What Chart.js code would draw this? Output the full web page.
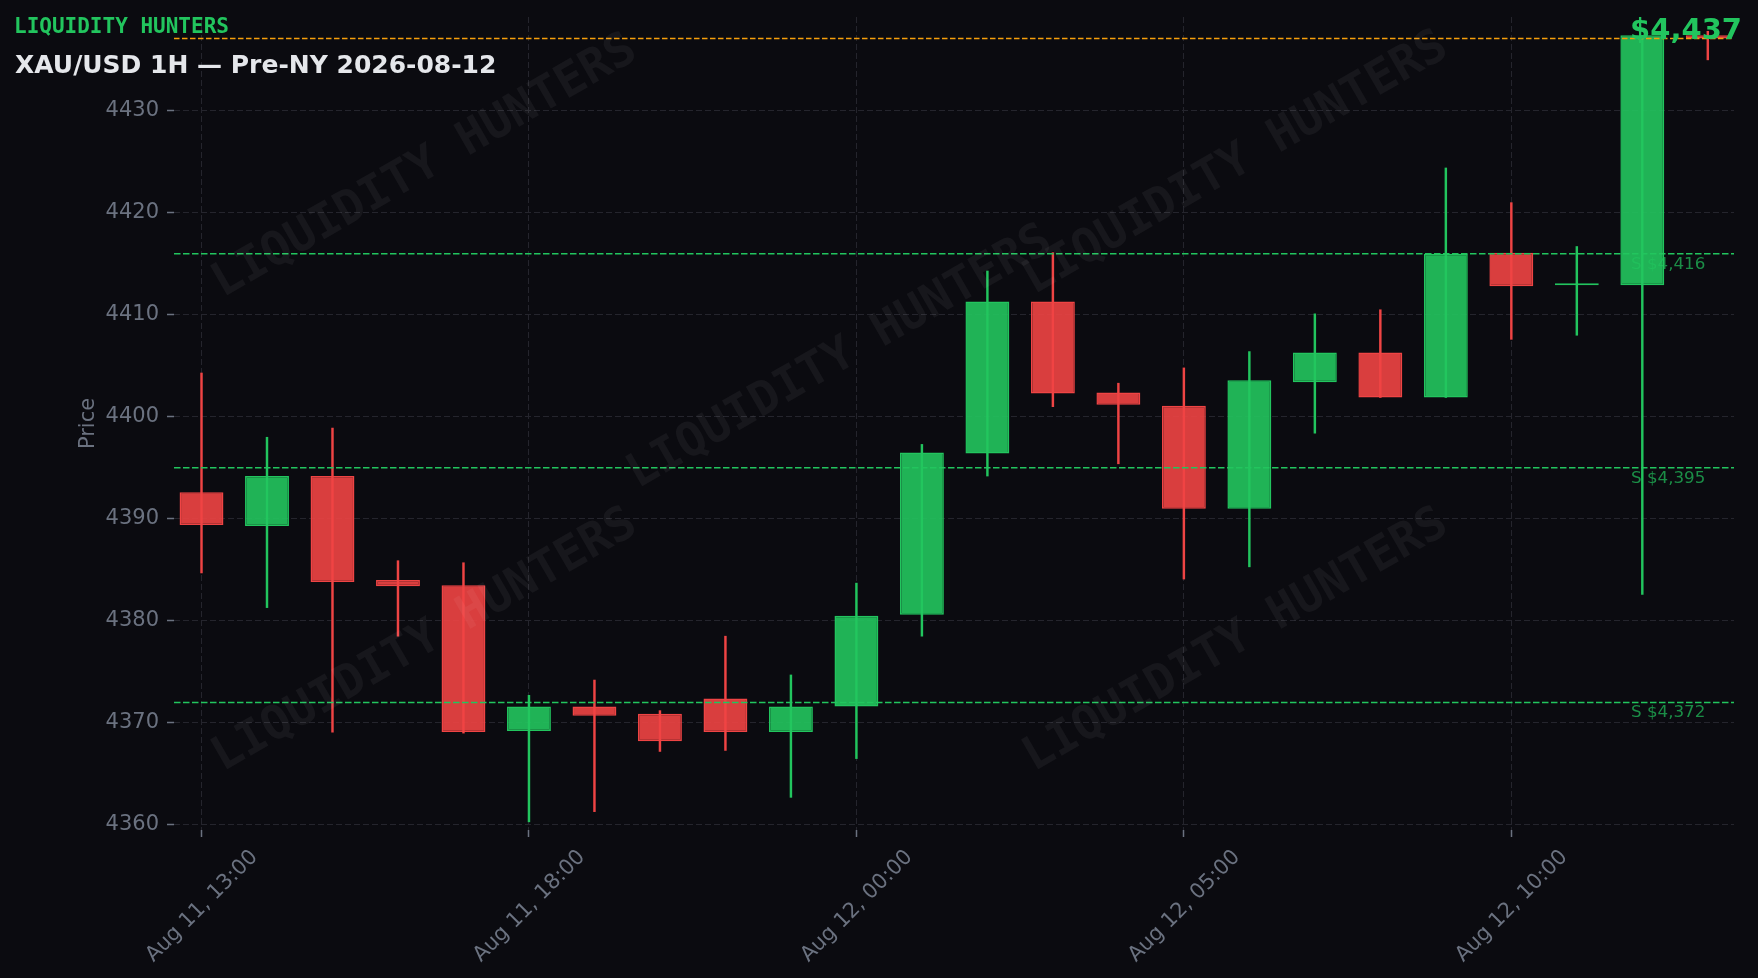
<!DOCTYPE html>
<html>
<head>
<meta charset="utf-8">
<title>XAU/USD 1H — Pre-NY 2026-08-12</title>
<script src="https://cdn.jsdelivr.net/npm/chart.js@4.4.1/dist/chart.umd.min.js"></script>
<style>
  html, body { margin: 0; padding: 0; background: #0b0b10; }
  #wrap { width: 1758px; height: 978px; }
</style>
</head>
<body>
<div id="wrap"><canvas id="candles" width="1758" height="978"></canvas></div>
<script>
// hourly candles, Aug 11 13:00 -> Aug 12 13:00 (no bar for the 21:00 break)
const times = [
  'Aug 11, 13:00', 'Aug 11, 14:00', 'Aug 11, 15:00', 'Aug 11, 16:00', 'Aug 11, 17:00',
  'Aug 11, 18:00', 'Aug 11, 19:00', 'Aug 11, 20:00', 'Aug 11, 22:00', 'Aug 11, 23:00',
  'Aug 12, 00:00', 'Aug 12, 01:00', 'Aug 12, 02:00', 'Aug 12, 03:00', 'Aug 12, 04:00',
  'Aug 12, 05:00', 'Aug 12, 06:00', 'Aug 12, 07:00', 'Aug 12, 08:00', 'Aug 12, 09:00',
  'Aug 12, 10:00', 'Aug 12, 11:00', 'Aug 12, 12:00', 'Aug 12, 13:00'
];
const opens  = [4392.6, 4389.3, 4394.2, 4384.0, 4383.5, 4369.2, 4371.6, 4370.9, 4372.4, 4369.1,
                4371.6, 4380.6, 4396.4, 4411.3, 4402.4, 4401.1, 4391.0, 4403.4, 4406.3, 4401.9,
                4416.1, 4412.9, 4412.9, 4437.4];
const highs  = [4404.3, 4398.0, 4398.9, 4385.9, 4385.7, 4372.7, 4374.2, 4371.2, 4378.5, 4374.7,
                4383.7, 4397.3, 4414.3, 4416.1, 4403.3, 4404.8, 4406.4, 4410.1, 4410.5, 4424.4,
                4421.0, 4416.7, 4437.4, 4437.8];
const lows   = [4384.7, 4381.3, 4369.1, 4378.5, 4369.0, 4360.3, 4361.3, 4367.2, 4367.3, 4362.7,
                4366.5, 4378.5, 4394.2, 4401.0, 4395.4, 4384.1, 4385.3, 4398.4, 4401.9, 4401.9,
                4407.6, 4408.0, 4382.6, 4435.0];
const closes = [4389.4, 4394.2, 4383.8, 4383.4, 4369.1, 4371.6, 4370.7, 4368.2, 4369.1, 4371.6,
                4380.5, 4396.5, 4411.3, 4402.3, 4401.2, 4391.0, 4403.6, 4406.3, 4401.9, 4416.0,
                4412.8, 4412.9, 4437.4, 4437.1];

const supports = [4416, 4395, 4372];
const yTicks = [4360, 4370, 4380, 4390, 4400, 4410, 4420, 4430];
const xTicks = [0, 5, 10, 15, 20];
const lastPrice = closes[closes.length - 1];

const BRAND = 'LIQUIDITY HUNTERS';
const TITLE = 'XAU/USD 1H — Pre-NY 2026-08-12';

const GREEN = '#22c55e';
const RED = '#ef4444';
const GRID = '#25252d';
const MUTED = '#6b7280';

// watermark centres, canvas px
const WATERMARKS = [[425, 167], [840, 358], [1236, 164], [425, 641], [1236, 641]];

const isUp = i => closes[i] >= opens[i];
const money = v => '$' + Math.round(v).toLocaleString('en-US');

const overlay = {
  id: 'overlay',
  afterDatasetsDraw(chart) {
    const { ctx, chartArea: a, scales: { y } } = chart;
    ctx.save();
    ctx.lineWidth = 1.5;

    // support levels
    ctx.strokeStyle = GREEN;
    ctx.setLineDash([6.5, 2.5]);
    supports.forEach(v => {
      const py = y.getPixelForValue(v);
      ctx.beginPath();
      ctx.moveTo(a.left, py);
      ctx.lineTo(a.right, py);
      ctx.stroke();
    });

    // last price
    ctx.strokeStyle = '#f59e0b';
    ctx.setLineDash([5.5, 2.5]);
    const lp = y.getPixelForValue(lastPrice);
    ctx.beginPath();
    ctx.moveTo(a.left, lp);
    ctx.lineTo(a.right, lp);
    ctx.stroke();

    ctx.setLineDash([]);
    ctx.font = '16.7px "DejaVu Sans"';
    ctx.fillStyle = 'rgba(34,197,94,0.7)';
    ctx.textAlign = 'left';
    ctx.textBaseline = 'alphabetic';
    const lx = a.left + 0.934 * (a.right - a.left);
    supports.forEach(v => ctx.fillText('S ' + money(v), lx, y.getPixelForValue(v) + 15));
    ctx.restore();
  },
  afterDraw(chart) {
    const { ctx } = chart;
    ctx.save();

    ctx.font = 'bold 47px "DejaVu Sans Mono"';
    ctx.fillStyle = 'rgba(255,255,255,0.05)';
    ctx.textAlign = 'center';
    ctx.textBaseline = 'middle';
    WATERMARKS.forEach(([x, y]) => {
      ctx.save();
      ctx.translate(x, y);
      ctx.rotate(-Math.PI / 6);
      ctx.fillText(BRAND, 0, 0);
      ctx.restore();
    });

    ctx.textBaseline = 'alphabetic';
    ctx.textAlign = 'left';
    ctx.font = 'bold 21px "DejaVu Sans Mono"';
    ctx.fillStyle = GREEN;
    ctx.fillText(BRAND, 14, 32.7);

    ctx.font = 'bold 25px "DejaVu Sans"';
    ctx.fillStyle = '#e5e7eb';
    ctx.fillText(TITLE, 15, 73.3);

    ctx.textAlign = 'right';
    ctx.font = 'bold 29px "DejaVu Sans"';
    ctx.fillStyle = GREEN;
    ctx.fillText(money(lastPrice), 1742, 39);
    ctx.restore();
  }
};

Chart.defaults.font.family = '"DejaVu Sans", sans-serif';

new Chart(document.getElementById('candles'), {
  type: 'bar',
  data: {
    datasets: [
      {
        // bodies
        data: opens.map((o, i) => ({ x: i, y: [o, closes[i]] })),
        backgroundColor: c => isUp(c.dataIndex) ? 'rgba(34,197,94,0.9)' : 'rgba(239,68,68,0.9)',
        borderColor: c => isUp(c.dataIndex) ? GREEN : RED,
        borderWidth: 1.5,
        borderSkipped: false,
        minBarLength: 2,
        grouped: false,
        categoryPercentage: 1,
        barPercentage: 0.67,
        order: 0
      },
      {
        // wicks
        data: lows.map((l, i) => ({ x: i, y: [l, highs[i]] })),
        backgroundColor: c => isUp(c.dataIndex) ? GREEN : RED,
        borderWidth: 0,
        barThickness: 1.8,
        grouped: false,
        order: 1
      }
    ]
  },
  options: {
    responsive: false,
    devicePixelRatio: 1,
    animation: false,
    layout: { padding: { top: 17, right: 24, bottom: 0, left: 0 } },
    plugins: { legend: { display: false }, tooltip: { enabled: false } },
    scales: {
      x: {
        type: 'linear',
        min: -0.42,
        max: 23.4,
        offset: false,
        afterBuildTicks: axis => { axis.ticks = xTicks.map(v => ({ value: v })); },
        afterFit: axis => { axis.height = 148; },
        grid: { offset: false, color: GRID, lineWidth: 1, tickColor: MUTED, tickLength: 7, tickWidth: 1.5 },
        border: { display: false, dash: [6, 3] },
        ticks: {
          color: MUTED,
          font: { size: 21 },
          minRotation: 45,
          maxRotation: 45,
          autoSkip: false,
          padding: 8,
          labelOffset: 53,
          callback: v => times[v]
        }
      },
      y: {
        min: 4359.5,
        max: 4439.2,
        beginAtZero: false,
        afterBuildTicks: axis => { axis.ticks = yTicks.map(v => ({ value: v })); },
        afterFit: axis => {
          axis.width = 174;
          axis.paddingTop = 0;
          axis.paddingBottom = 0;
        },
        grid: { color: GRID, lineWidth: 1, tickColor: MUTED, tickLength: 7, tickWidth: 1.5 },
        border: { display: false, dash: [6, 3] },
        ticks: { color: MUTED, font: { size: 21 }, padding: 8, callback: v => String(v) },
        title: {
          display: true,
          text: 'Price',
          color: MUTED,
          font: { size: 21 },
          padding: { top: 76, bottom: 0 }
        }
      }
    }
  },
  plugins: [overlay]
});
</script>
</body>
</html>
